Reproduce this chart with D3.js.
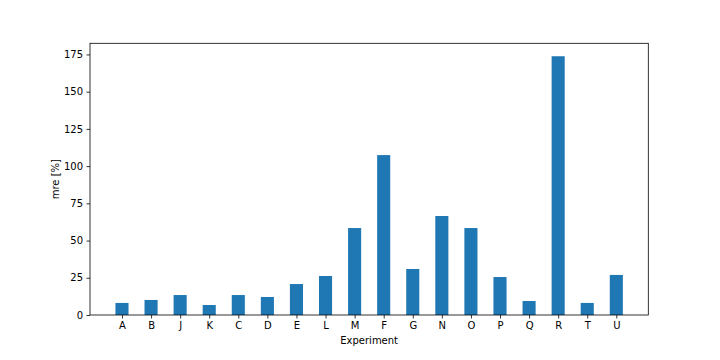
<!DOCTYPE html>
<html><head><meta charset="utf-8">
<script src="https://cdn.jsdelivr.net/npm/d3@7"></script>
<style>body{margin:0;background:#fff}svg{display:block}text{font-family:"DejaVu Sans",sans-serif}</style>
</head><body>
<svg id="c" width="720" height="360"></svg>
<script>
const categories = ["A","B","J","K","C","D","E","L","M","F","G","N","O","P","Q","R","T","U"];
const values = [8.1,10.1,13.4,6.7,13.4,12.1,20.8,26.2,58.4,107.4,30.9,66.5,58.4,25.5,9.4,173.8,8.1,26.9];
const yTicks = [0,25,50,75,100,125,150,175];
const xLabel = "Experiment";
const yLabel = "mre [%]";

const svg = d3.select("#c");
const L = 90, R = 648.3, T = 43.3, B = 315;
const barW = 0.45;
const x = d3.scaleLinear().domain([-1.1, categories.length - 1 + 1.1]).range([L, R]);
const y = d3.scaleLinear().domain([0, d3.max(values) * 1.05]).range([B, T]);

svg.append("g").selectAll("rect").data(values).join("rect")
  .attr("x", (d,i) => x(i - barW/2))
  .attr("width", (d,i) => x(i + barW/2) - x(i - barW/2))
  .attr("y", d => y(d))
  .attr("height", d => y(0) - y(d))
  .attr("fill", "#1f77b4");

const xAxis = d3.axisBottom(x).tickValues(d3.range(categories.length)).tickFormat(i => categories[i]).tickSize(3.5).tickPadding(3.5);
const yAxis = d3.axisLeft(y).tickValues(yTicks).tickSize(3.5).tickPadding(3.5);

const gx = svg.append("g").attr("transform", `translate(0,${B})`).call(xAxis);
const gy = svg.append("g").attr("transform", `translate(${L},0)`).call(yAxis);
[gx, gy].forEach(g => {
  g.select(".domain").remove();
  g.selectAll(".tick line").attr("stroke", "#000").attr("stroke-width", 0.8);
  g.selectAll(".tick text").attr("fill", "#000").attr("font-size", 10).attr("font-family", "DejaVu Sans");
});

svg.append("rect").attr("x", L).attr("y", T).attr("width", R - L).attr("height", B - T)
  .attr("fill", "none").attr("stroke", "#000").attr("stroke-width", 0.8);

svg.append("text").attr("x", (L + R) / 2).attr("y", 344).attr("text-anchor", "middle")
  .attr("font-size", 10).text(xLabel);
svg.append("text").attr("transform", `translate(58.5,${(T + B) / 2}) rotate(-90)`).attr("text-anchor", "middle")
  .attr("font-size", 10).text(yLabel);
</script>
</body></html>
